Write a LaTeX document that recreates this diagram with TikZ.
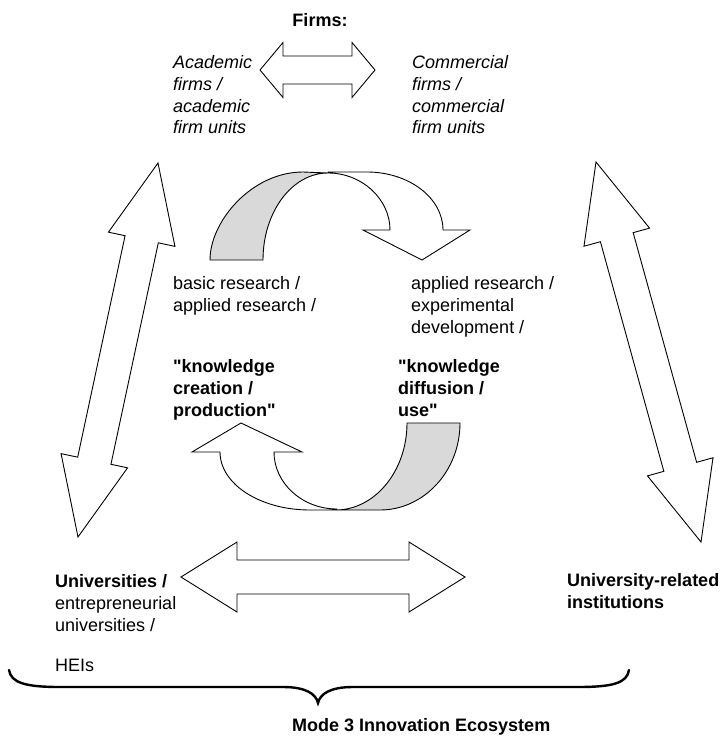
\documentclass[tikz,border=0pt]{standalone}
\usepackage{fontspec}
\setmainfont{Liberation Sans}
\usetikzlibrary{calc}
\newcommand\fatdblarrow[5]{%
  \path ($(#1)!#3!(#2)$) coordinate (ha) ($(#2)!#3!(#1)$) coordinate (hb);
  \draw[bigarrow] (#1) -- ($(ha)!#4!90:(#2)$) -- ($(ha)!#5!90:(#2)$)
    -- ($(hb)!#5!-90:(#1)$) -- ($(hb)!#4!-90:(#1)$) -- (#2)
    -- ($(hb)!#4!90:(#1)$) -- ($(hb)!#5!90:(#1)$)
    -- ($(ha)!#5!-90:(#2)$) -- ($(ha)!#4!-90:(#2)$) -- cycle;}
\begin{document}
\begin{tikzpicture}[x=1pt,y=-1pt,
  txt/.style={font=\fontsize{18}{21.7}\selectfont, inner sep=0pt, anchor=north west, align=left},
  txti/.style={txt, font=\fontsize{18}{21.7}\selectfont\itshape},
  txtb/.style={txt, font=\fontsize{18}{21.7}\selectfont\bfseries},
  bigarrow/.style={draw=black, fill=white, line width=0.9pt, line join=miter},
  band/.style={draw=black, fill=gray!30, line width=0.9pt},
  brace/.style={draw=black, line width=2.4pt, line cap=round}]
\useasboundingbox (0,0) rectangle (723,741);

% texts
\node[txtb, anchor=center] (firms) at (320,20) {Firms:};
\node[txti] (acad) at (173,55.5) {Academic\\firms /\\academic\\firm units};
\node[txti] (comm) at (412,55.5) {Commercial\\firms /\\commercial\\firm units};
\node[txt] (basic) at (173,276.5) {basic research /\\applied research /};
\node[txt] (appl) at (411,276.5) {applied research /\\experimental\\development /};
\node[txtb] (kcre) at (173,359.5) {\textquotedbl knowledge\\creation /\\production\textquotedbl};
\node[txtb] (kdif) at (398,359.5) {\textquotedbl knowledge\\diffusion /\\use\textquotedbl};
\node[txt] (univ) at (55,574.5) {\textbf{Universities /}\\entrepreneurial\\universities /\\[19pt]HEIs};
\node[txtb] (urel) at (567,573.5) {University-related\\institutions};
\node[txtb, anchor=west] (mode) at (292,727) {Mode 3 Innovation Ecosystem};

% straight double arrows
\coordinate (ta1) at (260,70);  \coordinate (ta2) at (375,70);
\fatdblarrow{ta1}{ta2}{23pt}{27.5pt}{14pt}
\coordinate (la1) at (158,163); \coordinate (la2) at (78,537);
\fatdblarrow{la1}{la2}{78pt}{34pt}{17pt}
\coordinate (ra1) at (596,162); \coordinate (ra2) at (701,542);
\fatdblarrow{ra1}{ra2}{78pt}{34pt}{17pt}
\coordinate (ba1) at (181,577); \coordinate (ba2) at (465,577);
\fatdblarrow{ba1}{ba2}{56pt}{35pt}{17pt}

% upper curved arrow
\draw[band] (210,260) -- (263,260) .. controls (263,212) and (292,173) .. (328,173)
  -- (303,172) .. controls (252,172) and (210,221) .. (210,260) -- cycle;
\draw[bigarrow] (328,172) -- (367,172) .. controls (409,172) and (443,198) .. (443,230)
  -- (470,230) -- (422,260) -- (363,230) -- (390,230)
  .. controls (390,199) and (362,173) .. (328,173) -- cycle;

% lower curved arrow
\draw[band] (407,423) -- (460,423) .. controls (460,471) and (424,510) .. (380,510)
  -- (337,510) .. controls (376,509) and (407,470) .. (407,423) -- cycle;
\draw[bigarrow] (337,510) -- (310,510) .. controls (260,510) and (220,484) .. (220,452)
  -- (192,452) -- (241,423) -- (302,452) -- (274,452)
  .. controls (274,483) and (302,509) .. (337,509) -- cycle;

% brace
\coordinate (brL) at (9,670); \coordinate (brT) at (318,703); \coordinate (brR) at (629,670);
\draw[brace] (brL) .. controls (11,683) and (26,687) .. (60,687) -- (283,687)
  .. controls (306,687) and (316,694) .. (brT)
  .. controls (320,694) and (330,687) .. (353,687) -- (578,687)
  .. controls (613,687) and (627,683) .. (brR);
\end{tikzpicture}
\end{document}
